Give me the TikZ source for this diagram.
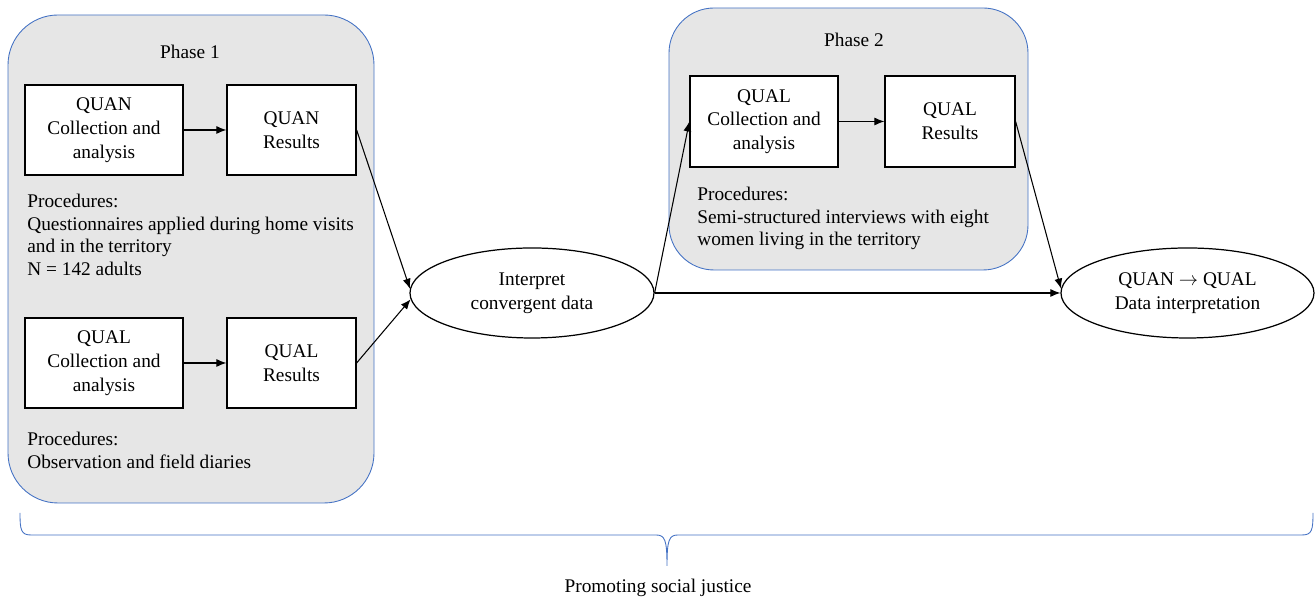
\documentclass[tikz,border=0pt]{standalone}
\usepackage{fontspec}
\setmainfont{Liberation Serif}
\usetikzlibrary{arrows.meta, shapes.geometric}

\definecolor{phasegray}{HTML}{E6E6E6}
\definecolor{phaseblue}{HTML}{4472C4}

\begin{document}
\begin{tikzpicture}[
    >={Latex[length=2mm,width=1.6mm]},
    font=\fontsize{11}{12.8}\selectfont,
    phase/.style={draw=phaseblue, line width=0.5pt, fill=phasegray},
    stagebox/.style={draw, line width=0.7pt, fill=white, align=center,
        minimum height=1.8cm, inner sep=2pt,
        font=\fontsize{11}{13.5}\selectfont},
    oval/.style={ellipse, draw, line width=0.7pt, fill=white, align=center,
        minimum height=1.8cm, inner sep=0pt,
        font=\fontsize{11}{13.5}\selectfont},
    proc/.style={align=left, inner sep=0pt, anchor=north west},
    link/.style={->, line width=0.6pt}
]

\useasboundingbox (0,0) rectangle (26.32,12.02);

% phase panels
\draw[phase, rounded corners=1cm] (0.16,1.96) rectangle (7.48,11.72);
\draw[phase, rounded corners=0.9cm] (13.38,6.62) rectangle (20.56,11.86);

\node (ph1) at (3.8,10.98) {Phase 1};
\node (ph2) at (17.08,11.22) {Phase 2};

% phase 1
\node[stagebox, minimum width=3.16cm] (quanA) at (2.08,9.42)
    {QUAN\\Collection and\\analysis};
\node[stagebox, minimum width=2.58cm] (quanB) at (5.83,9.42)
    {QUAN\\Results};
\node[proc] (proc1) at (0.54,8.14)
    {Procedures:\\
    Questionnaires applied during home visits\\
    and in the territory\\
    N = 142 adults};

\node[stagebox, minimum width=3.16cm] (qualA) at (2.08,4.76)
    {QUAL\\Collection and\\analysis};
\node[stagebox, minimum width=2.58cm] (qualB) at (5.83,4.76)
    {QUAL\\Results};
\node[proc] (proc2) at (0.54,3.38)
    {Procedures:\\
    Observation and field diaries};

% convergence
\node[oval, minimum width=4.88cm] (interp) at (10.64,6.16)
    {Interpret\\convergent data};

% phase 2
\node[stagebox, minimum width=2.96cm, minimum height=1.82cm] (qualC) at (15.28,9.59)
    {QUAL\\Collection and\\analysis};
\node[stagebox, minimum width=2.6cm, minimum height=1.82cm] (qualD) at (19.0,9.59)
    {QUAL\\Results};
\node[proc] (proc3) at (13.94,8.28)
    {Procedures:\\
    Semi-structured interviews with eight\\
    women living in the territory};

% final interpretation
\node[oval, minimum width=5.06cm] (final) at (23.75,6.16)
    {QUAN $\rightarrow$ QUAL\\Data interpretation};

% arrows
\draw[link] (quanA) -- (quanB);
\draw[link] (qualA) -- (qualB);
\draw[link] (quanB.east) -- (interp.178);
\draw[link] (qualB.east) -- (interp.183);
\draw[link] (interp.east) -- (qualC.west);
\draw[link] (qualC) -- (qualD);
\draw[link] (interp.east) -- (final.west);
\draw[link] (qualD.east) -- (final.178);

% brace
\coordinate (braceL) at (0.4,1.76);
\coordinate (braceR) at (26.26,1.76);
\coordinate (braceTip) at (13.34,0.7);
\draw[phaseblue, line width=0.5pt]
    (braceL) .. controls (0.4,1.42) and (0.42,1.32) .. (0.62,1.32)
    -- (13.12,1.32) .. controls (13.3,1.32) and (13.34,1.22) .. (braceTip)
    .. controls (13.34,1.22) and (13.38,1.32) .. (13.56,1.32)
    -- (26.04,1.32) .. controls (26.24,1.32) and (26.26,1.42) .. (braceR);
\node (justice) at (13.16,0.26) {Promoting social justice};

\end{tikzpicture}
\end{document}
